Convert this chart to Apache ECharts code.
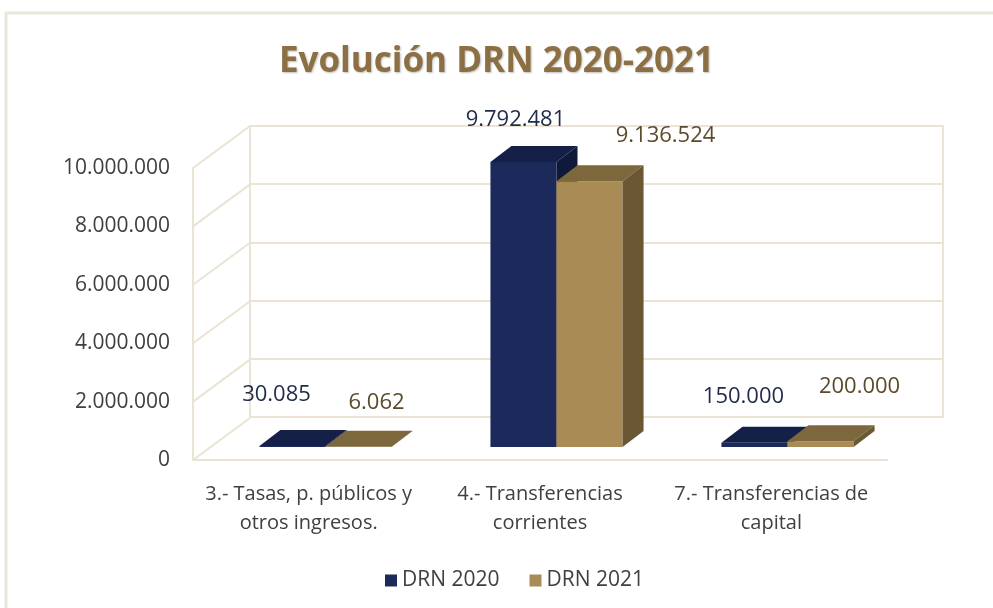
<!DOCTYPE html>
<html>
<head>
<meta charset="utf-8">
<script src="https://cdn.jsdelivr.net/npm/echarts@6/dist/echarts.min.js"></script>
<style>
html,body{margin:0;padding:0;background:#fff;}
#chart{width:993px;height:608px;}
</style>
</head>
<body>
<div id="chart"></div>
<script>
// ---- data ----
const categories = ['3.- Tasas, p. públicos y\notros ingresos.', '4.- Transferencias\ncorrientes', '7.- Transferencias de\ncapital'];
const seriesNames = ['DRN 2020', 'DRN 2021'];
const drn2020 = [30085, 9792481, 150000];
const drn2021 = [6062, 9136524, 200000];
const yTicks = [0, 2000000, 4000000, 6000000, 8000000, 10000000];

// ---- style ----
const WALL = '#ebe4d5';
const DEPTH = [21, -16];
const SIDE_WALL = [57, -42];
const BAR_FRAC = 0.286;
const palettes = [
  { front: '#1b2a5b', top: '#142048', side: '#0f1939', label: '#1f2b48' },
  { front: '#a98b55', top: '#7d683e', side: '#6a5733', label: '#5c4a2b' }
];
const labelOffsets = [
  [[-16, -51], [-8, -42], [-11, -46]],
  [[18, -44], [76, -45], [39, -54]]
];

function fmt(v) { return String(v).replace(/\B(?=(\d{3})+(?!\d))/g, '.'); }

function barRender(sIdx) {
  const pal = palettes[sIdx];
  return function (params, api) {
    const cat = api.value(0), v = api.value(1);
    const base = api.coord([cat, 0]);
    const top = api.coord([cat, v]);
    const bw = api.size([1, 0])[0];
    const w = bw * BAR_FRAC;
    const x0 = base[0] - w + sIdx * w, x1 = x0 + w;
    const yb = base[1], yt = top[1];
    const dx = DEPTH[0], dy = DEPTH[1];
    const off = labelOffsets[sIdx][params.dataIndex];
    return {
      type: 'group',
      children: [
        { type: 'rect', shape: { x: x0, y: yt, width: w, height: yb - yt }, style: { fill: pal.front } },
        { type: 'polygon', shape: { points: [[x0, yt], [x1, yt], [x1 + dx, yt + dy], [x0 + dx, yt + dy]] }, style: { fill: pal.top } },
        { type: 'polygon', shape: { points: [[x1, yt], [x1 + dx, yt + dy], [x1 + dx, yb + dy], [x1, yb]] }, style: { fill: pal.side } },
        { type: 'text', x: (x0 + x1) / 2 + off[0], y: yt + off[1],
          style: { text: fmt(v), fill: pal.label, font: '22px "Open Sans"', align: 'center', verticalAlign: 'middle' } }
      ]
    };
  };
}

const chart = echarts.init(document.getElementById('chart'), null, { renderer: 'canvas' });
const option = {
  backgroundColor: '#fff',
  animation: false,
  title: {
    text: 'Evolución DRN 2020-2021', left: 'center', top: 40,
    textStyle: { fontFamily: 'Open Sans', fontWeight: 'bold', fontSize: 35, color: '#8c7043',
      textShadowColor: 'rgba(0,0,0,0.25)', textShadowBlur: 2, textShadowOffsetX: 1, textShadowOffsetY: 1 }
  },
  legend: {
    top: 565, left: 380, icon: 'rect', itemWidth: 12, itemHeight: 12, itemGap: 30,
    data: seriesNames,
    textStyle: { fontFamily: 'Open Sans', fontSize: 21, color: '#404040' }
  },
  graphic: [
    { type: 'rect', shape: { x: 6, y: 13, width: 1100, height: 700 }, style: { fill: 'none', stroke: '#ece7dc', lineWidth: 3 }, z: -10 }
  ],
  grid: [
    { left: 250, top: 126, width: 693, height: 291, show: true, borderColor: WALL, borderWidth: 2 },
    { left: 210, top: 156, width: 693, height: 291 },
    { left: 193, top: 168, width: 694, height: 292 }
  ],
  xAxis: [
    { gridIndex: 0, type: 'category', data: categories, show: false },
    { gridIndex: 1, type: 'category', data: categories, show: false },
    { gridIndex: 2, type: 'category', data: categories,
      axisLine: { show: true, lineStyle: { color: WALL, width: 2 } }, axisTick: { show: false },
      axisLabel: { interval: 0, margin: 20, fontFamily: 'Open Sans', fontSize: 20, lineHeight: 29, color: '#404040' } }
  ],
  yAxis: [
    { gridIndex: 0, type: 'value', min: 0, max: 10000000, interval: 2000000,
      axisLabel: { show: false }, axisLine: { show: false }, axisTick: { show: false },
      splitLine: { show: true, lineStyle: { color: WALL, width: 2 } } },
    { gridIndex: 1, type: 'value', min: 0, max: 10000000, interval: 2000000, show: false, splitLine: { show: false } },
    { gridIndex: 2, type: 'value', min: 0, max: 10000000, interval: 2000000,
      axisLine: { show: true, lineStyle: { color: WALL, width: 2 } }, axisTick: { show: false },
      splitLine: { show: false },
      axisLabel: { margin: 23, fontFamily: 'Open Sans', fontSize: 21, color: '#404040', formatter: fmt } }
  ],
  series: [
    {
      type: 'custom', name: 'walls', xAxisIndex: 2, yAxisIndex: 2, silent: true, z: 1,
      data: yTicks.map(v => [0, v]),
      renderItem: function (params, api) {
        const p = api.coord([0, api.value(1)]);
        const x = params.coordSys.x;
        return { type: 'line', shape: { x1: x, y1: p[1], x2: x + SIDE_WALL[0], y2: p[1] + SIDE_WALL[1] },
          style: { stroke: WALL, lineWidth: 2 } };
      }
    },
    { type: 'custom', name: seriesNames[0], xAxisIndex: 1, yAxisIndex: 1, z: 5,
      itemStyle: { color: palettes[0].front },
      data: drn2020.map((v, i) => [i, v]), encode: { x: 0, y: 1 }, renderItem: barRender(0) },
    { type: 'custom', name: seriesNames[1], xAxisIndex: 1, yAxisIndex: 1, z: 5,
      itemStyle: { color: palettes[1].front },
      data: drn2021.map((v, i) => [i, v]), encode: { x: 0, y: 1 }, renderItem: barRender(1) }
  ]
};
chart.setOption(option);
</script>
</body>
</html>
